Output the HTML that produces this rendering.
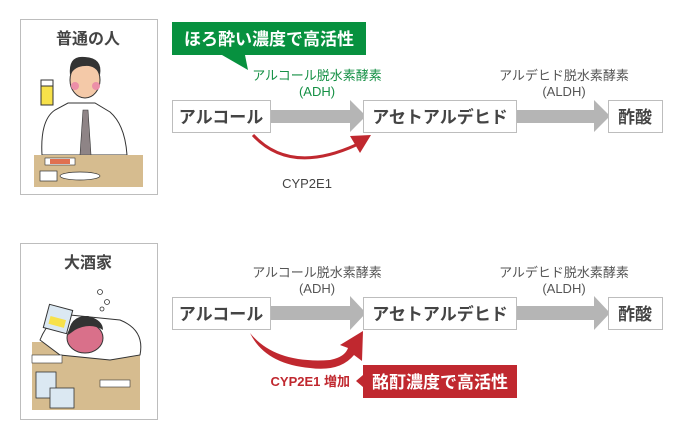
<!DOCTYPE html>
<html><head><meta charset="utf-8"><style>
body{margin:0;background:#fff;}
svg text{font-family:"Liberation Sans","Noto Sans CJK JP",sans-serif;}
</style></head><body>
<svg width="700" height="440" viewBox="0 0 700 440" xmlns="http://www.w3.org/2000/svg">
<!-- panels -->
<rect x="20.5" y="19.5" width="137" height="175" fill="#fff" stroke="#bdbdbd"/>
<rect x="20.5" y="243.5" width="137" height="176" fill="#fff" stroke="#bdbdbd"/>
<text x="88" y="44" font-size="16" font-weight="bold" fill="#444" text-anchor="middle">普通の人</text>
<text x="88" y="268" font-size="16" font-weight="bold" fill="#444" text-anchor="middle">大酒家</text>
<!-- normal man -->
<path d="M42 155 Q40 120 55 110 L68 103 L95 103 L110 112 Q125 125 127 155 Z" fill="#fff" stroke="#333"/>
<path d="M83 110 L88 110 L91 155 L80 155 Z" fill="#8e8486" stroke="#333" stroke-width="0.6"/>
<ellipse cx="85" cy="80" rx="15" ry="18" fill="#f4c9a8" stroke="#333"/>
<path d="M70 75 Q68 55 85 57 Q103 58 100 75 Q95 65 85 66 Q75 66 70 75 Z" fill="#333"/>
<circle cx="75" cy="86" r="4" fill="#ec8fa8"/><circle cx="96" cy="86" r="4" fill="#ec8fa8"/>
<rect x="41" y="83" width="12" height="22" fill="#f7e14a" stroke="#333"/>
<rect x="41" y="80" width="12" height="6" fill="#fff" stroke="#333"/>
<rect x="34" y="155" width="109" height="32" fill="#d6bc8f"/>
<rect x="40" y="171" width="17" height="10" fill="#fff" stroke="#333" stroke-width="0.7"/>
<ellipse cx="80" cy="176" rx="20" ry="4" fill="#fff" stroke="#333" stroke-width="0.7"/>
<rect x="45" y="158" width="30" height="7" fill="#fff" stroke="#333" stroke-width="0.6"/>
<rect x="50" y="159" width="20" height="5" fill="#e07050"/>
<!-- drunk man -->
<rect x="32" y="342" width="108" height="68" fill="#d6bc8f"/>
<path d="M40 340 Q50 315 70 315 L120 320 Q145 330 140 355 L110 360 L60 355 Z" fill="#fff" stroke="#333"/>
<ellipse cx="85" cy="338" rx="18" ry="15" fill="#d9708a" stroke="#333"/>
<path d="M68 335 Q70 315 88 316 Q103 320 103 330 Q90 322 75 330 Z" fill="#333"/>
<rect x="46" y="307" width="24" height="24" fill="#dbe8f2" stroke="#333" transform="rotate(15 58 319)"/>
<rect x="50" y="318" width="16" height="8" fill="#f7e14a" transform="rotate(15 58 319)"/>
<circle cx="100" cy="292" r="2.5" fill="none" stroke="#333" stroke-width="0.8"/>
<circle cx="107" cy="302" r="2.5" fill="none" stroke="#333" stroke-width="0.8"/>
<circle cx="102" cy="309" r="2" fill="none" stroke="#333" stroke-width="0.8"/>
<rect x="36" y="372" width="20" height="26" fill="#dbe8f2" stroke="#333" stroke-width="0.8"/>
<rect x="50" y="388" width="24" height="20" fill="#dbe8f2" stroke="#333" stroke-width="0.8"/>
<rect x="32" y="355" width="30" height="8" fill="#fff" stroke="#333" stroke-width="0.6"/>
<rect x="100" y="380" width="30" height="7" fill="#fff" stroke="#333" stroke-width="0.6"/>
<!-- top row -->
<path d="M271 110 H350 V100 L366 116 L350 132 V123 H271 Z" fill="#b5b5b5"/>
<path d="M517 110 H594 V100 L610 116 L594 132 V123 H517 Z" fill="#b5b5b5"/>
<rect x="172.5" y="100.5" width="98" height="32" fill="#fff" stroke="#bdbdbd"/>
<rect x="363.5" y="100.5" width="153" height="32" fill="#fff" stroke="#bdbdbd"/>
<rect x="608.5" y="100.5" width="54" height="32" fill="#fff" stroke="#bdbdbd"/>
<text x="221" y="123" font-size="17" font-weight="bold" fill="#444" text-anchor="middle">アルコール</text>
<text x="440" y="123" font-size="17" font-weight="bold" fill="#444" text-anchor="middle">アセトアルデヒド</text>
<text x="635" y="123" font-size="17" font-weight="bold" fill="#444" text-anchor="middle">酢酸</text>
<path d="M172 22 H366 V55 H245 L248 70 L222 55 H172 Z" fill="#07913f"/>
<text x="269" y="45" font-size="17" font-weight="bold" fill="#fff" text-anchor="middle">ほろ酔い濃度で高活性</text>
<text x="317" y="80" font-size="13" fill="#159045" text-anchor="middle">アルコール脱水素酵素</text>
<text x="317" y="96" font-size="13" fill="#159045" text-anchor="middle">(ADH)</text>
<text x="564" y="80" font-size="13" fill="#555" text-anchor="middle">アルデヒド脱水素酵素</text>
<text x="564" y="96" font-size="13" fill="#555" text-anchor="middle">(ALDH)</text>
<path d="M253 135 Q290 175 356 145" fill="none" stroke="#c0282f" stroke-width="3"/>
<path d="M350 136 L371 135 L360 153 Z" fill="#c0282f"/>
<text x="307" y="188" font-size="13" fill="#444" text-anchor="middle">CYP2E1</text>
<!-- bottom row -->
<path d="M271 306 H350 V296 L366 313 L350 330 V320 H271 Z" fill="#b5b5b5"/>
<path d="M517 306 H594 V296 L610 313 L594 330 V320 H517 Z" fill="#b5b5b5"/>
<rect x="172.5" y="297.5" width="98" height="32" fill="#fff" stroke="#bdbdbd"/>
<rect x="363.5" y="297.5" width="153" height="32" fill="#fff" stroke="#bdbdbd"/>
<rect x="608.5" y="297.5" width="54" height="32" fill="#fff" stroke="#bdbdbd"/>
<text x="221" y="320" font-size="17" font-weight="bold" fill="#444" text-anchor="middle">アルコール</text>
<text x="440" y="320" font-size="17" font-weight="bold" fill="#444" text-anchor="middle">アセトアルデヒド</text>
<text x="635" y="320" font-size="17" font-weight="bold" fill="#444" text-anchor="middle">酢酸</text>
<text x="317" y="277" font-size="13" fill="#555" text-anchor="middle">アルコール脱水素酵素</text>
<text x="317" y="293" font-size="13" fill="#555" text-anchor="middle">(ADH)</text>
<text x="564" y="277" font-size="13" fill="#555" text-anchor="middle">アルデヒド脱水素酵素</text>
<text x="564" y="293" font-size="13" fill="#555" text-anchor="middle">(ALDH)</text>
<path d="M250 333 Q275 364 330 360 Q345 357 348 348 L340 345 L363 331 L362 361 L354 355 Q340 372 310 368 Q265 364 250 333 Z" fill="#c0282f"/>
<path d="M363 365 H517 V398 H363 V387 L356 381 L363 375 Z" fill="#c0282f"/>
<text x="440" y="388" font-size="17" font-weight="bold" fill="#fff" text-anchor="middle">酩酊濃度で高活性</text>
<text x="350" y="386" font-size="13" font-weight="bold" fill="#c0282f" text-anchor="end">CYP2E1 増加</text>
</svg>
</body></html>
